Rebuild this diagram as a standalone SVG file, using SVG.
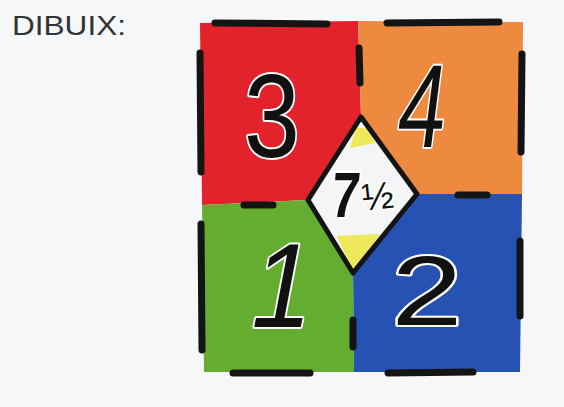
<svg xmlns="http://www.w3.org/2000/svg" width="564" height="407" viewBox="0 0 564 407">
<style>
.dash{stroke:#141414;stroke-width:7;stroke-linecap:round;fill:none}
.num{font-family:"Liberation Sans",Arial,sans-serif;fill:#111;stroke:#fff;stroke-width:4;paint-order:stroke;stroke-linejoin:round;text-anchor:middle}
</style>
<rect width="564" height="407" fill="#f6f7f9"/>
<text x="12" y="35" font-family="Liberation Sans,Arial,sans-serif" font-size="28" fill="#333" textLength="114" lengthAdjust="spacingAndGlyphs">DIBUIX:</text>
<g id="red"><polygon points="200,23 358,21 361,117 308,200 202,205" fill="#e2232b"/></g>
<g id="orange"><polygon points="358,21 523,22 522,194 417,194 361,117" fill="#ee8a40"/></g>
<g id="blue"><polygon points="417,194 522,194 520,372 354,372 353,273" fill="#2653b3"/></g>
<g id="green"><polygon points="202,205 308,200 353,273 354,372 204,372" fill="#64ad30"/></g>
<g id="diamond">
<polygon points="361,117 417,194 353,273 308,200" fill="#f3f5f7"/>
<polygon points="356,128 367,128 375,143 350,148" fill="#efe85a"/>
<polygon points="337,236 380,234 356,268 350,266" fill="#efe85a"/>
<polygon points="361,117 417,194 353,273 308,200" fill="none" stroke="#141414" stroke-width="5" stroke-linejoin="round"/>
<text class="num" transform="translate(344,217) scale(0.8,1) skewX(-6)" font-size="64" font-weight="bold" stroke-width="0" fill="#222">7</text>
<text class="num" transform="translate(379,209) rotate(-6)" font-size="38" stroke-width="0" fill="#333">½</text>
</g>
<g id="dashes">
<line class="dash" x1="215" y1="23" x2="327" y2="24"/>
<line class="dash" x1="387" y1="23" x2="499" y2="22"/>
<line class="dash" x1="200" y1="53" x2="201" y2="172"/>
<line class="dash" x1="201" y1="224" x2="202" y2="350"/>
<line class="dash" x1="522" y1="54" x2="521" y2="152"/>
<line class="dash" x1="520" y1="241" x2="520" y2="316"/>
<line class="dash" x1="233" y1="373" x2="310" y2="373"/>
<line class="dash" x1="388" y1="373" x2="473" y2="372"/>
<line class="dash" x1="359" y1="48" x2="360" y2="83"/>
<line class="dash" x1="353" y1="320" x2="353" y2="347"/>
<line class="dash" x1="244" y1="205" x2="273" y2="205"/>
<line class="dash" x1="458" y1="195" x2="487" y2="195"/>
</g>
<g id="numbers">
<text class="num" transform="translate(272,157) scale(0.85,1)" font-size="118">3</text>
<text class="num" transform="translate(418,147) scale(0.72,1) skewX(-10)" font-size="118">4</text>
<text class="num" transform="translate(276,327) scale(0.9,1) skewX(-12)" font-size="120">1</text>
<text class="num" transform="translate(427,325) scale(1.3,1)" font-size="98">2</text>
</g>
</svg>
